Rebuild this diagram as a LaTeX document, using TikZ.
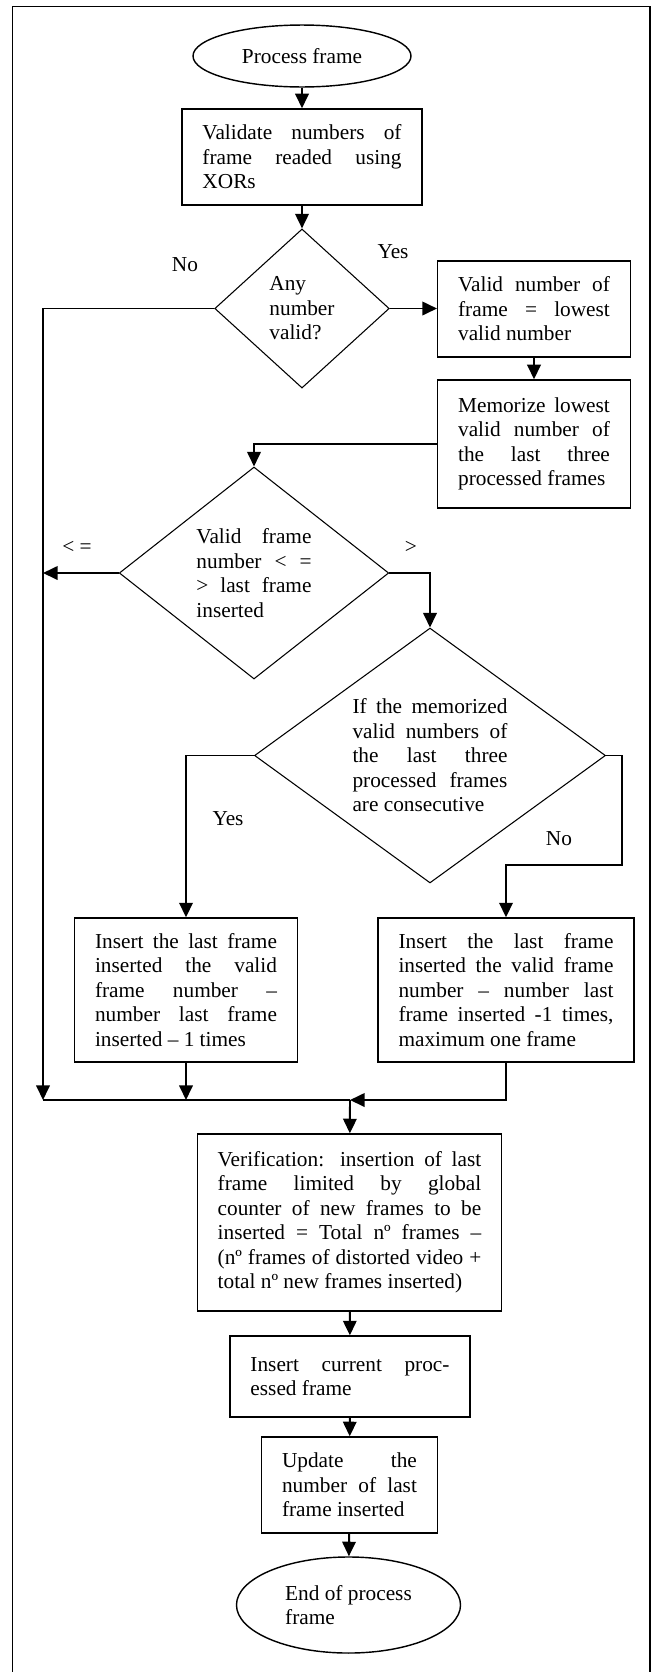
\documentclass[tikz,border=0pt]{standalone}
\usepackage{fontspec}
\setmainfont{Liberation Serif}
\usetikzlibrary{shapes,arrows,positioning,calc,arrows.meta}
\tolerance=10000
\hbadness=10000
\hyphenpenalty=10000
\exhyphenpenalty=10000

\begin{document}
\begin{tikzpicture}[x=0.5633pt,y=-0.5633pt,
    font=\fontsize{12}{13.8}\selectfont,
    procbox/.style={draw,line width=0.8pt,align=justify,inner xsep=11.5pt,inner ysep=0pt},
    decision/.style={draw,diamond,line width=0.6pt,inner sep=0pt},
    terminal/.style={draw,ellipse,line width=0.8pt,inner sep=0pt},
    flow/.style={line width=1.1pt,-{Triangle[length=8.2pt,width=7.6pt]}},
    link/.style={line width=1.1pt}]
    \useasboundingbox (0,0) rectangle (651,1672);

    % frame
    \draw [line width=0.9pt] (12.5,1672) -- (12.5,6.5) -- (649.7,6.5) -- (649.7,1672);

    % top part
    \node [terminal, minimum width=122.8pt, minimum height=34.9pt] (start) at (302,56) {Process frame};
    \node [procbox, text width=112.1pt, minimum height=54.1pt] (validate) at (302,157)
        {Validate numbers of\linebreak frame readed using\linebreak XORs};
    \node [decision, aspect=1.1, minimum width=98.3pt, minimum height=89.6pt, align=left] (anyvalid) at (302,308.5)
        {Any\\number\\valid?};
    \node [procbox, text width=85.5pt, minimum height=54.1pt] (lowest) at (534,309)
        {Valid number of\linebreak frame = lowest\linebreak valid number};
    \node [procbox, text width=85.5pt, minimum height=72.1pt] (memorize) at (534,444)
        {Memorize lowest\linebreak valid number of\linebreak the last three\linebreak processed frames};
    \node (no1) at (185,265) {No};
    \node (yes1) at (393,252) {Yes};

    % comparisons
    \node [decision, aspect=1.27, minimum width=151.8pt, minimum height=119.4pt, text width=64.8pt, align=justify] (compare) at (254,573)
        {Valid frame\linebreak number < =\linebreak > last frame\linebreak inserted};
    \node [decision, aspect=1.377, minimum width=197.7pt, minimum height=143.6pt, text width=87.3pt, align=justify] (consec) at (430,755.5)
        {If the memorized\linebreak valid numbers of\linebreak the last three\linebreak processed frames\linebreak are consecutive};
    \node (le) at (77,547) {< =};
    \node (gt) at (411,547) {>};
    \node (yes2) at (228,819) {Yes};
    \node (no2) at (559,839) {No};

    % insertions
    \node [procbox, text width=102.5pt, minimum height=81.1pt] (insleft) at (186,990)
        {Insert the last frame\linebreak inserted the valid\linebreak frame number --\linebreak number last frame\linebreak inserted -- 1 times};
    \node [procbox, text width=121.1pt, minimum height=81.1pt] (insright) at (506,990)
        {Insert the last frame\linebreak inserted the valid frame\linebreak number -- number last\linebreak frame inserted -1 times,\linebreak maximum one frame};

    % bottom part
    \node [procbox, text width=148.5pt, minimum height=99.7pt] (verify) at (349.5,1222.5)
        {Verification: insertion of last\linebreak frame limited by global\linebreak counter of new frames to be\linebreak inserted = Total nº frames --\linebreak (nº frames of distorted video +\linebreak total nº new frames inserted)};
    \node [procbox, text width=112.1pt, minimum height=45.6pt] (inscur) at (350,1376.5)
        {Insert current proc-\linebreak essed frame};
    \node [procbox, text width=76pt, minimum height=54.1pt] (update) at (349.5,1485)
        {Update the\linebreak number of last\linebreak frame inserted};
    \node [terminal, minimum width=126.2pt, minimum height=54.1pt, align=left] (stop) at (348.5,1605)
        {End of process\\frame};

    \coordinate (leftrail) at (43,1100);
    \coordinate (join) at (350,1100);
    \coordinate (nobend) at (622,865);

    % connectors
    \draw [link] (leftrail) -- (join);
    \draw [flow] (start) -- (validate);
    \draw [flow] (validate) -- (anyvalid);
    \draw [flow] (anyvalid.east) -- (anyvalid.east -| lowest.west);
    \draw [flow] (anyvalid.west) -| (leftrail);
    \draw [flow] (lowest) -- (memorize);
    \draw [flow] (memorize.west) -| (compare.north);
    \draw [flow] (compare.west) -- (compare.west -| leftrail);
    \draw [flow] (compare.east) -| (consec.north);
    \draw [flow] (consec.west) -| (insleft.north);
    \draw [flow] (consec.east) -| (nobend) -| (insright.north);
    \draw [flow] (insleft.south) -- (insleft.south |- join);
    \draw [flow] (insright.south) |- (join);
    \draw [flow] (join) -- (verify);
    \draw [flow] (verify) -- (inscur);
    \draw [flow] (inscur) -- (update);
    \draw [flow] (update) -- (stop);
\end{tikzpicture}
\end{document}
